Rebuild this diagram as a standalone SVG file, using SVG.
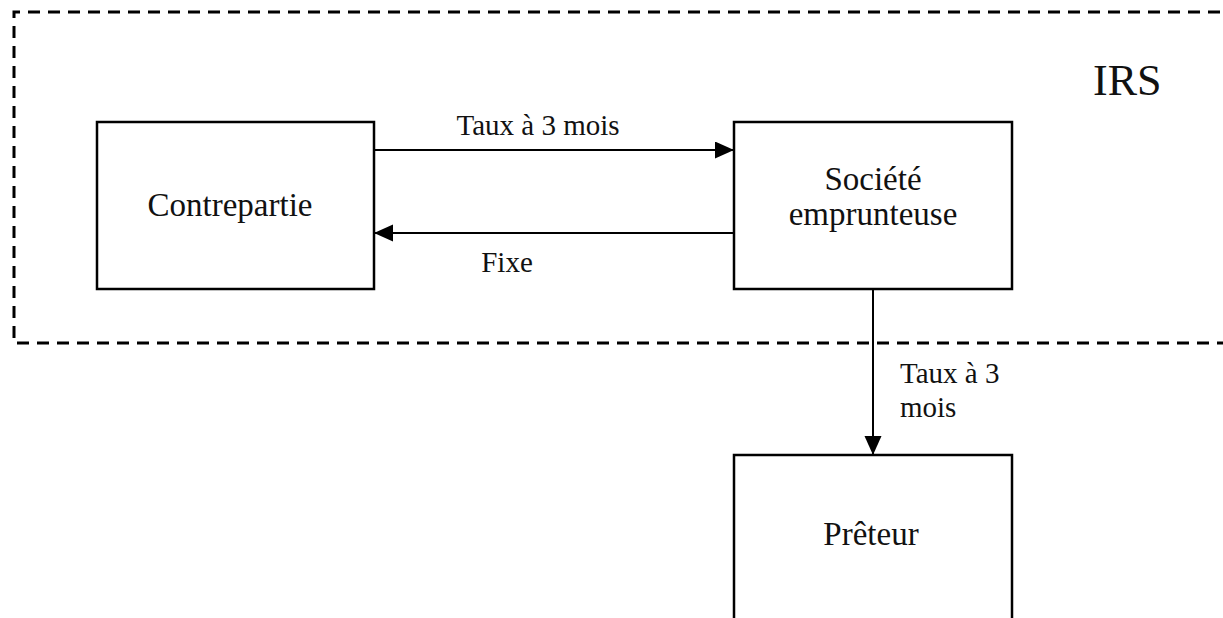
<svg xmlns="http://www.w3.org/2000/svg" width="1223" height="618" viewBox="0 0 1223 618">
<style>
  .box { fill: #ffffff; stroke: #000000; stroke-width: 2.5; }
  .conn { stroke: #000000; stroke-width: 2; fill: none; }
  .t { font-family: "Liberation Serif", "Times New Roman", serif; font-size: 29px; fill: #111111; }
  .n { font-family: "Liberation Serif", "Times New Roman", serif; font-size: 33px; fill: #111111; }
  .dash { fill: none; stroke: #000000; stroke-width: 3; stroke-dasharray: 12 8; }
</style>
<defs>
  <marker id="arrow" markerUnits="userSpaceOnUse" markerWidth="20" markerHeight="18" refX="19" refY="8.5" orient="auto">
    <path d="M0,0 L19,8.5 L0,17 Z" fill="#000000"/>
  </marker>
</defs>
<rect width="1223" height="618" fill="#ffffff"/>
<g id="irs">
  <path class="dash" d="M1240,12 L14,12 L14,343 L1240,343"/>
  <text class="t" x="1093" y="95" style="font-size:44px">IRS</text>
</g>
<g id="contrepartie">
  <rect class="box" x="97" y="122" width="277" height="167"/>
  <text class="n" x="230" y="216" text-anchor="middle">Contrepartie</text>
</g>
<g id="societe">
  <rect class="box" x="734" y="122" width="278" height="167"/>
  <text class="n" x="873" text-anchor="middle"><tspan x="873" y="190">Société</tspan><tspan x="873" y="225">emprunteuse</tspan></text>
</g>
<g id="preteur">
  <rect class="box" x="734" y="455" width="278" height="180"/>
  <text class="n" x="871" y="545" text-anchor="middle">Prêteur</text>
</g>
<g id="connectors">
  <line class="conn" x1="374" y1="150" x2="734" y2="150" marker-end="url(#arrow)"/>
  <line class="conn" x1="734" y1="233" x2="374" y2="233" marker-end="url(#arrow)"/>
  <line class="conn" x1="873" y1="289" x2="873" y2="455" marker-end="url(#arrow)"/>
  <text class="t" x="538" y="135" text-anchor="middle">Taux à 3 mois</text>
  <text class="t" x="507" y="272" text-anchor="middle">Fixe</text>
  <text class="t" x="900" y="383"><tspan x="900" y="383">Taux à 3</tspan><tspan x="900" y="417">mois</tspan></text>
</g>
</svg>
